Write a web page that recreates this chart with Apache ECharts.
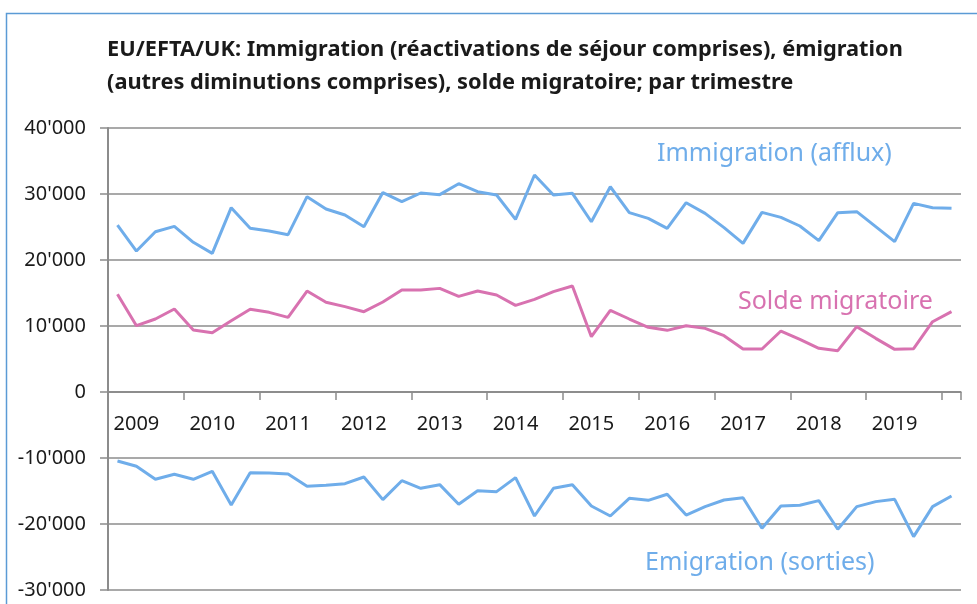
<!DOCTYPE html>
<html><head><meta charset="utf-8">
<script src="https://cdn.jsdelivr.net/npm/echarts@6/dist/echarts.min.js"></script>
<style>html,body{margin:0;padding:0;background:#fff}#c{width:977px;height:604px}</style>
</head><body><div id="c"></div>
<script>
const years = ['2009','2010','2011','2012','2013','2014','2015','2016','2017','2018','2019','2020'];
const quarters = ['T1','T2','T3','T4'];
const immigration = [25300,21360,24280,25100,22680,21010,27930,24800,24390,23840,29600,27730,26820,25050,30220,28830,30150,29900,31560,30350,29850,26160,32880,29850,30100,25800,31100,27170,26300,24800,28680,27070,24900,22520,27220,26460,25150,22930,27170,27320,25050,22780,28580,27930,27830];
const solde = [14800,10050,11060,12570,9390,8990,10800,12530,12070,11310,15300,13590,12930,12170,13640,15450,15450,15700,14490,15300,14700,13130,14040,15200,16060,8380,12380,11060,9800,9340,10050,9640,8530,6510,6510,9240,7980,6620,6260,9900,8130,6460,6560,10650,12170];
const emigration = [-10450,-11260,-13230,-12470,-13230,-12020,-17120,-12220,-12270,-12420,-14290,-14140,-13890,-12880,-16310,-13440,-14590,-14040,-17020,-14950,-15100,-12980,-18790,-14590,-14040,-17270,-18790,-16110,-16410,-15500,-18640,-17370,-16360,-16010,-20650,-17270,-17170,-16460,-20800,-17370,-16610,-16260,-21920,-17370,-15750];
const categories = [];
years.forEach(y => quarters.forEach(q => { if (categories.length < immigration.length) categories.push(y + ' ' + q); }));

const BLUE = '#6fadea', PINK = '#d872b0', GRID = '#8c8c8c', TXT = '#1a1a1a', FONT = 'Noto Sans';
const chart = echarts.init(document.getElementById('c'));
const fmt = v => { const s = Math.abs(v).toString(); const t = s.length > 3 ? s.slice(0, -3) + "'" + s.slice(-3) : s; return (v < 0 ? '-' : '') + t; };
const yCommon = {
  type: 'value', interval: 10000,
  axisLine: { show: true, lineStyle: { color: GRID, width: 2 } },
  axisTick: { show: true, length: 8, lineStyle: { color: GRID, width: 1.5 } },
  axisLabel: { formatter: fmt, margin: 22, fontSize: 20, color: TXT, fontFamily: FONT },
  splitLine: { show: true, lineStyle: { color: GRID, width: 1.5 } }
};
chart.setOption({
  animation: false,
  grid: [
    { left: 108, right: 16, top: 128, height: 264, outerBoundsMode: 'none' },
    { left: 108, right: 16, top: 392, height: 198, outerBoundsMode: 'none' }
  ],
  graphic: [
    { type: 'rect', shape: { x: 6.5, y: 13.5, width: 1100, height: 700 }, style: { fill: 'none', stroke: '#5b9bd5', lineWidth: 1.5 }, silent: true },
    { type: 'text', left: 107, top: 33, style: { text: 'EU/EFTA/UK: Immigration (réactivations de séjour comprises), émigration\n(autres diminutions comprises), solde migratoire; par trimestre', font: 'bold 21.8px "Noto Sans"', fill: TXT, lineHeight: 33 } },
    { type: 'text', left: 657, top: 141, style: { text: 'Immigration (afflux)', font: '25px "Noto Sans"', fill: BLUE } },
    { type: 'text', left: 738, top: 289, style: { text: 'Solde migratoire', font: '25px "Noto Sans"', fill: PINK } },
    { type: 'text', left: 645, top: 550, style: { text: 'Emigration (sorties)', font: '25px "Noto Sans"', fill: BLUE } }
  ],
  xAxis: [
    {
      gridIndex: 0, type: 'category', data: categories, boundaryGap: true, position: 'bottom',
      axisLine: { show: true, lineStyle: { color: GRID, width: 1.5 } },
      axisTick: { show: true, length: 8, interval: i => i % 4 === 0, lineStyle: { color: GRID, width: 1.5 } },
      axisLabel: { interval: i => i % 4 === 1, formatter: v => v.slice(0, 4), margin: 22, fontSize: 20, color: TXT, fontFamily: FONT },
      splitLine: { show: false }
    },
    {
      gridIndex: 1, type: 'category', data: categories, boundaryGap: true, position: 'top',
      axisLine: { show: false }, axisTick: { show: false }, axisLabel: { show: false }, splitLine: { show: false }
    }
  ],
  yAxis: [
    Object.assign({ gridIndex: 0, min: 0, max: 40000 }, yCommon),
    Object.assign({}, yCommon, { gridIndex: 1, min: -30000, max: 0, axisLabel: Object.assign({}, yCommon.axisLabel, { showMaxLabel: false }) })
  ],
  series: [
    { name: 'Immigration', type: 'line', xAxisIndex: 0, yAxisIndex: 0, data: immigration, symbol: 'none', lineStyle: { color: BLUE, width: 3 } },
    { name: 'Solde', type: 'line', xAxisIndex: 0, yAxisIndex: 0, data: solde, symbol: 'none', lineStyle: { color: PINK, width: 3 } },
    { name: 'Emigration', type: 'line', xAxisIndex: 1, yAxisIndex: 1, data: emigration, symbol: 'none', lineStyle: { color: BLUE, width: 3 } }
  ]
});
</script></body></html>
